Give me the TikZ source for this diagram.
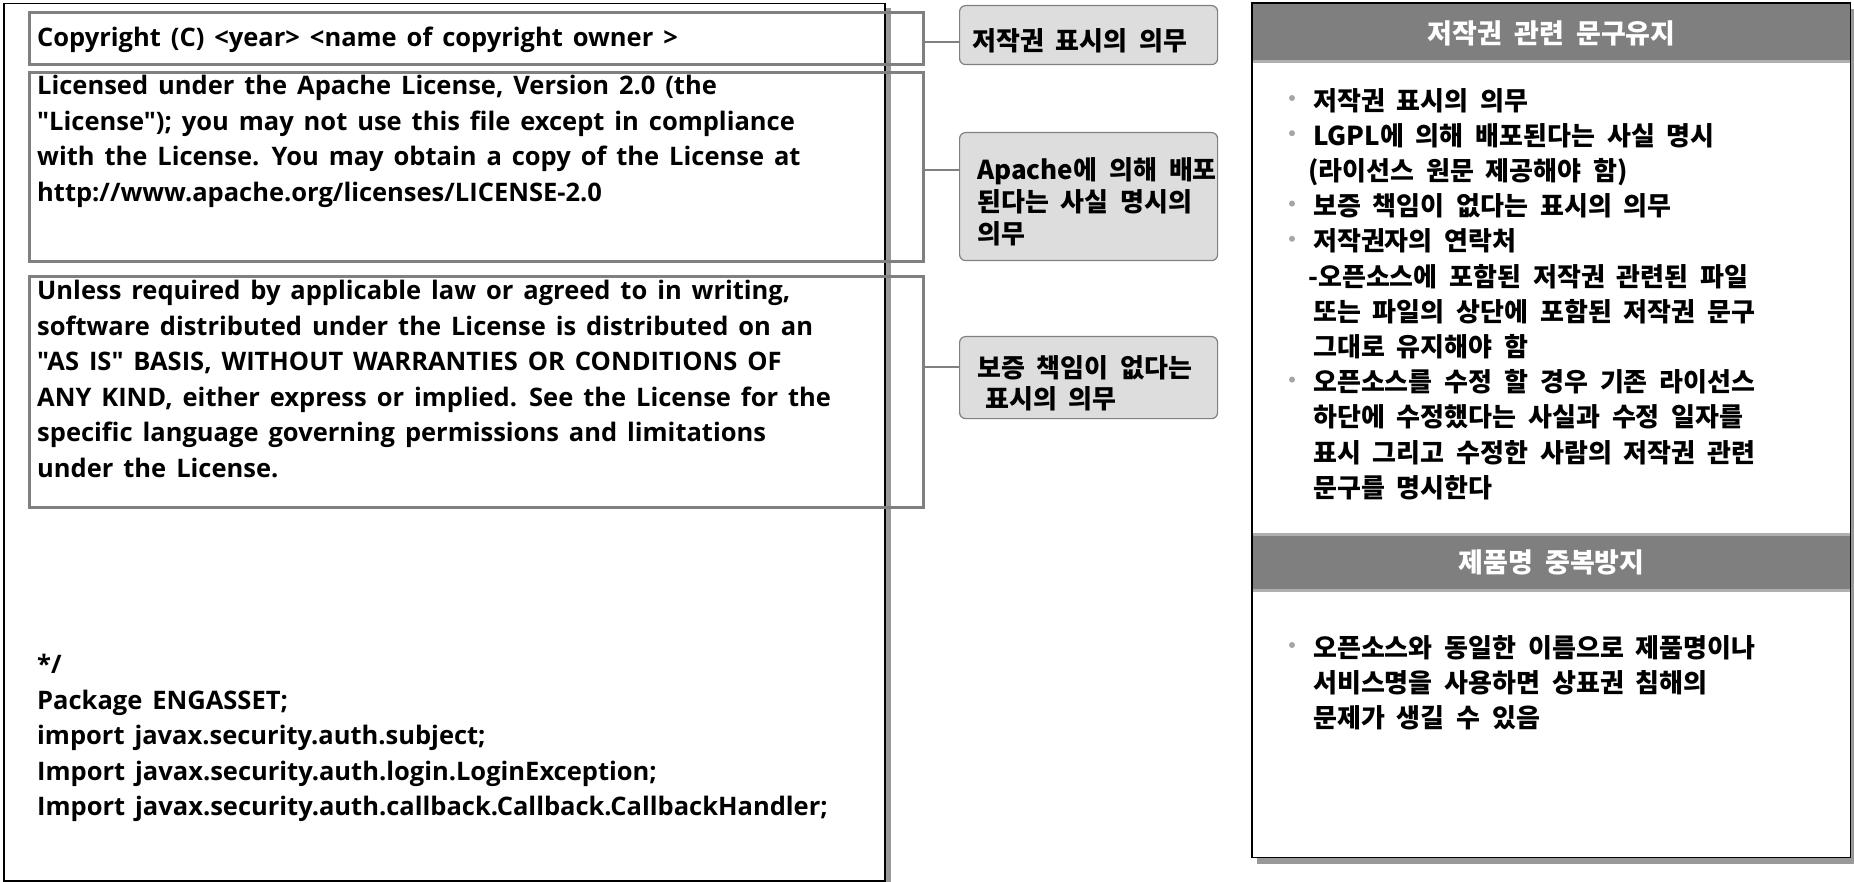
\documentclass[tikz,border=0pt]{standalone}
\usepackage{fontspec}
\newfontfamily\enfont{Open Sans}[WordSpace=1.5]
\newfontfamily\krfont{Noto Sans CJK KR}[WordSpace=2]
\definecolor{boxgray}{RGB}{128,128,128}
\definecolor{labelfill}{RGB}{221,221,221}
\definecolor{shadowgray}{RGB}{153,153,153}
\definecolor{headgray}{RGB}{127,127,127}
\definecolor{headline}{RGB}{175,175,175}
\definecolor{dotgray}{RGB}{165,165,165}
\begin{document}
\begin{tikzpicture}[x=1pt,y=-1pt,
  entxt/.style={anchor=north west, inner sep=0pt, align=left,
    font=\enfont\fontsize{25.5}{35.6}\selectfont\bfseries, execute at begin node={\rule{0pt}{20pt}}},
  krtxt/.style={anchor=north west, inner sep=0pt, align=left,
    font=\krfont\fontsize{26}{35.2}\selectfont\bfseries, execute at begin node={\rule{0pt}{20pt}}},
  grayframe/.style={draw=boxgray, line width=3pt, anchor=north west, inner sep=0pt, minimum width=894pt},
  labelbox/.style={draw=boxgray, fill=labelfill, line width=1.2pt, rounded corners=6pt,
    anchor=north west, inner sep=0pt, minimum width=258pt},
  link/.style={draw=boxgray, line width=2.5pt},
  headbar/.style={fill=headgray, anchor=north west, inner sep=0pt, minimum width=597pt,
    minimum height=59pt, text=white, font=\krfont\fontsize{27}{30}\selectfont\bfseries},
  dot/.style={fill=dotgray},
  ]
\useasboundingbox (0,0) rectangle (1854,882);

% ---------- left code box ----------
\fill[shadowgray] (8,8) rectangle (891,888);
\node (outer) [draw=black, fill=white, line width=1.5pt, anchor=north west, inner sep=0pt,
  minimum width=881pt, minimum height=877pt] at (3,3) {};

\node (b1) [grayframe, minimum height=52pt] at (28,11) {};
\node (b2) [grayframe, minimum height=189pt] at (28,71) {};
\node (b3) [grayframe, minimum height=231pt] at (28,275) {};

\node (t1) [entxt] at (37,26) {Copyright (C) <year> <name of copyright owner >};
\node (t2) [entxt] at (37,75) {Licensed under the Apache License, Version 2.0 (the\\
"License"); you may not use this file except in compliance\\
with the License. You may obtain a copy of the License at\\
http://www.apache.org/licenses/LICENSE-2.0};
\node (t3) [entxt] at (37,280) {Unless required by applicable law or agreed to in writing,\\
software distributed under the License is distributed on an\\
"AS IS" BASIS, WITHOUT WARRANTIES OR CONDITIONS OF\\
ANY KIND, either express or implied. See the License for the\\
specific language governing permissions and limitations\\
under the License.};
\node (t4) [entxt] at (37,654) {*/\\
Package ENGASSET;\\
import javax.security.auth.subject;\\
Import javax.security.auth.login.LoginException;\\
Import javax.security.auth.callback.Callback.CallbackHandler;};

% ---------- labels ----------
\node (l1) [labelbox, minimum height=59pt] at (959,5) {};
\node (l2) [labelbox, minimum height=128pt] at (959,132) {};
\node (l3) [labelbox, minimum height=82pt] at (959,336) {};

\node (lt1) [krtxt] at (972,28) {저작권 표시의 의무};
\node (lt2) [krtxt, font=\krfont\fontsize{26}{32}\selectfont\bfseries] at (977,157) {Apache에 의해 배포\\
된다는 사실 명시의\\
의무};
\node (lt3) [krtxt, font=\krfont\fontsize{26}{31}\selectfont\bfseries] at (977,355) {보증 책임이 없다는\\
\hspace*{8pt}표시의 의무};

\coordinate (j1) at (940,42);
\coordinate (j2) at (940,170);
\coordinate (j3) at (940,367);
\draw[link] (b1.east |- j1) -- (l1.west |- j1);
\draw[link] (b2.east |- j2) -- (l2.west |- j2);
\draw[link] (b3.east |- j3) -- (l3.west |- j3);

% ---------- right panel ----------
\fill[shadowgray] (1257,9) rectangle (1856,864);
\node (panel) [fill=white, anchor=north west, inner sep=0pt,
  minimum width=598pt, minimum height=854pt] at (1252,3) {};
\node (h1) [headbar] at (1252.75,3.75) {저작권 관련 문구유지};
\draw[headline, line width=3pt] ([yshift=1.5pt]h1.south west) -- ([yshift=1.5pt]h1.south east);
\node (h2) [headbar] at (1252.75,533) {제품명 중복방지};
\draw[headline, line width=3pt] ([yshift=-1.5pt]h2.north west) -- ([yshift=-1.5pt]h2.north east);
\draw[headline, line width=3pt] ([yshift=1.5pt]h2.south west) -- ([yshift=1.5pt]h2.south east);
\draw[black, line width=1.5pt] (panel.north west) rectangle (panel.south east);

\node (p1) [krtxt] at (1313,88) {저작권 표시의 의무\\
LGPL에 의해 배포된다는 사실 명시\\
\hspace*{-5pt}(라이선스 원문 제공해야 함)\\
보증 책임이 없다는 표시의 의무\\
저작권자의 연락처\\
\hspace*{-5pt}-오픈소스에 포함된 저작권 관련된 파일\\
또는 파일의 상단에 포함된 저작권 문구\\
그대로 유지해야 함\\
오픈소스를 수정 할 경우 기존 라이선스\\
하단에 수정했다는 사실과 수정 일자를\\
표시 그리고 수정한 사람의 저작권 관련\\
문구를 명시한다};
\foreach \yy in {98,133.2,203.6,238.8,379.6} \fill[dot] (1292,\yy) circle (3pt);

\node (p2) [krtxt, font=\krfont\fontsize{26}{35}\selectfont\bfseries] at (1313,635) {오픈소스와 동일한 이름으로 제품명이나\\
서비스명을 사용하면 상표권 침해의\\
문제가 생길 수 있음};
\fill[dot] (1292,645) circle (3pt);
\end{tikzpicture}
\end{document}
